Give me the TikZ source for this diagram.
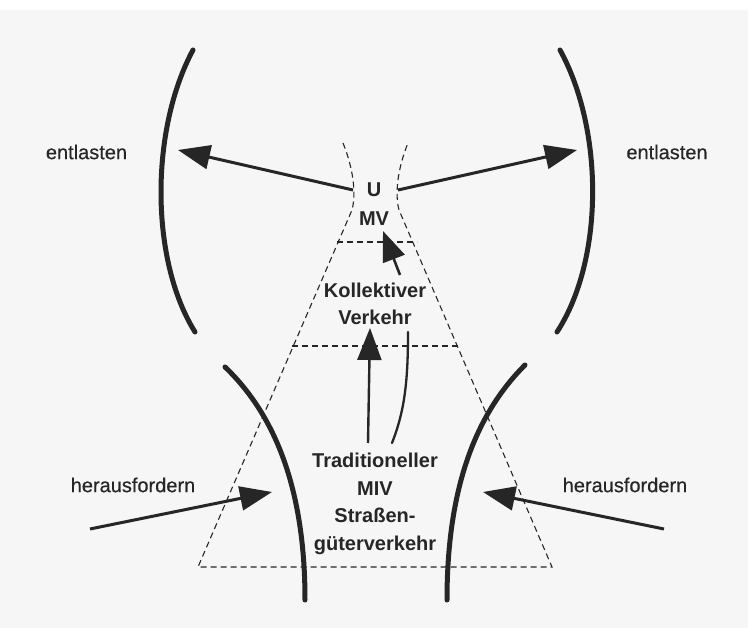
\documentclass[tikz,border=0pt]{standalone}
\usepackage{fontspec}
\setmainfont{Liberation Sans}
\newfontfamily\medfont{Liberation Sans}[FakeBold=0.4]
\usetikzlibrary{arrows.meta}
\definecolor{ink}{HTML}{262626}
\definecolor{paper}{HTML}{F6F6F6}
\tikzset{
  outerlbl/.style={font=\medfont\fontsize{20}{24}\selectfont, text=ink, inner sep=0pt},
  innerlbl/.style={font=\bfseries\fontsize{20}{27.5}\selectfont, text=ink, align=center, inner sep=0pt},
  bound/.style={draw=ink, line width=5pt, line cap=round},
  push/.style={draw=ink, line width=3pt, -{Triangle[length=32pt,width=24pt]}},
  zone/.style={draw=ink, line width=1.1pt, dash pattern=on 6pt off 4pt},
  thin/.style={draw=ink, line width=2.3pt, line cap=round}
}
\begin{document}
\begin{tikzpicture}[x=1pt,y=-1pt]
\useasboundingbox (0,0) rectangle (748,628);
\fill[paper] (0,10) rectangle (748,628);

% coordinates
\coordinate (hlTop) at (343,143);
\coordinate (hlBot) at (352,210);
\coordinate (hrTop) at (408,143);
\coordinate (hrBot) at (399,210);
\coordinate (bl) at (198,567);
\coordinate (br) at (552,567);

% dashed zone
\draw[zone] (hlTop) .. controls (354,170) and (356,195) .. (hlBot) -- (bl) -- (br) -- (hrBot) .. controls (395,195) and (397,170) .. (hrTop);
\draw[zone] (337,242) -- (417,242);
\draw[zone] (292,346) -- (460,346);

% bounding arcs
\draw[bound] (193,50) .. controls (150,130) and (150,260) .. (195,332);
\draw[bound] (560,50) .. controls (604,130) and (604,260) .. (557,332);
\draw[bound] (225,367) .. controls (270,410) and (305,480) .. (305,600);
\draw[bound] (525,365) .. controls (480,410) and (447,480) .. (447,600);

% labels
\node[outerlbl] (entL) at (86.5,152) {entlasten};
\node[outerlbl] (entR) at (667,152) {entlasten};
\node[outerlbl] (herL) at (133,485) {herausfordern};
\node[outerlbl] (herR) at (625,485) {herausfordern};
\node[innerlbl] (u) at (374,190) {U};
\node[innerlbl] (mv) at (374,219) {MV};
\node[innerlbl] (kv) at (375,304) {Kollektiver\\Verkehr};
\node[innerlbl] (tr) at (375,504) {Traditioneller\\MIV\\Straßen-\\güterverkehr};

% arrow endpoints
\coordinate (eLs) at (353,190);
\coordinate (eLt) at (178,150);
\coordinate (eRs) at (398,190);
\coordinate (eRt) at (577,150);
\coordinate (hLs) at (90,529);
\coordinate (hLt) at (272,492);
\coordinate (hRs) at (664,529);
\coordinate (hRt) at (483,492);
\coordinate (kS) at (400,275);
\coordinate (kT) at (383,231);
\coordinate (tS) at (368,443);
\coordinate (tT) at (370,328);
\coordinate (cS) at (392,443);
\coordinate (cT) at (408,332);

\draw[push] (eLs) -- (eLt);
\draw[push] (eRs) -- (eRt);
\draw[push] (hLs) -- (hLt);
\draw[push] (hRs) -- (hRt);
\draw[push, line width=2.6pt, -{Triangle[length=30pt,width=23pt]}] (kS) -- (kT);
\draw[push, line width=2.4pt] (tS) -- (tT);
\draw[thin] (cS) .. controls (405,410) and (408,380) .. (cT);
\end{tikzpicture}
\end{document}
